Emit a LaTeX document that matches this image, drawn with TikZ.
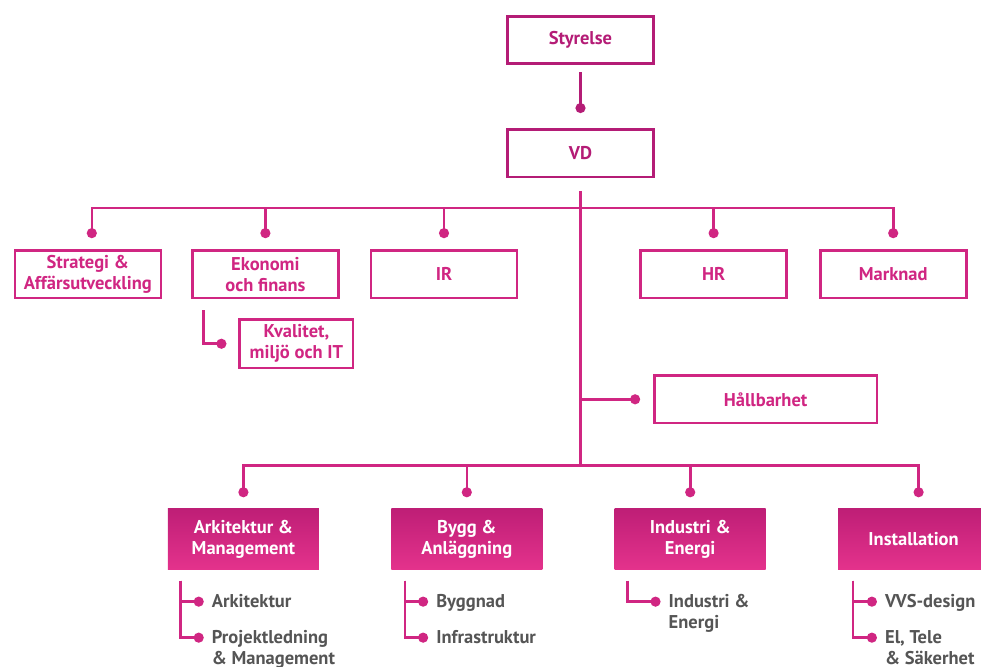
\documentclass[tikz,border=0pt]{standalone}
\usepackage{fontspec}
\setmainfont{PT Sans}
\usetikzlibrary{positioning, calc, arrows.meta}
\definecolor{Plum}{RGB}{180,28,118}
\definecolor{Rose}{RGB}{208,38,130}
\definecolor{UnitTop}{RGB}{190,30,118}
\definecolor{UnitBot}{RGB}{228,50,140}
\definecolor{Slate}{RGB}{85,85,85}
\tikzstyle{Box} = [draw=Rose, line width=2.6pt, text=Rose, align=center,
    font=\bfseries\fontsize{18.5}{21}\selectfont, inner sep=0pt,
    minimum width=146pt, minimum height=47.5pt]
\tikzstyle{Unit} = [top color=UnitTop, bottom color=UnitBot, text=white,
    align=center, font=\bfseries\fontsize{18.5}{21}\selectfont, inner sep=0pt,
    minimum width=151pt, minimum height=61pt]
\tikzstyle{Item} = [anchor=base west, text=Slate, align=left, inner sep=0pt,
    font=\bfseries\fontsize{18.5}{21}\selectfont]
\tikzstyle{Wire} = [draw=Rose, line width=2.6pt]
\tikzstyle{Dot} = [Wire, -{Circle[length=10pt, width=10pt]}]

\begin{document}
\begin{tikzpicture}[x=1pt, y=1pt]
    \useasboundingbox (0,0) rectangle (981,-666);
    \node [Box, draw=Plum, text=Plum] (styrelse) at (580.5,-40) {Styrelse};
    \node [Box, draw=Plum, text=Plum, below=63pt of styrelse] (vd) {VD};
    \node [Box, below=71pt of vd, xshift=-136.5pt] (ir) {IR};
    \node [Box, left=30pt of ir] (ekonomi) {Ekonomi\\och finans};
    \node [Box, left=29pt of ekonomi] (strategi) {Strategi \&\\Affärsutveckling};
    \node [Box, right=121pt of ir] (hr) {HR};
    \node [Box, right=31pt of hr] (marknad) {Marknad};
    \node [Box, minimum width=113.4pt, minimum height=48.4pt,
        below=19pt of ekonomi, xshift=31pt] (kvalitet) {Kvalitet,\\miljö och IT};
    \node [Box, minimum width=222.4pt, below=75pt of hr, xshift=52pt] (hallbarhet) {Hållbarhet};
    \node [Unit, below=139pt of kvalitet, xshift=-53pt] (arkitektur) {Arkitektur \&\\Management};
    \node [Unit, right=72pt of arkitektur] (bygg) {Bygg \&\\Anläggning};
    \node [Unit, right=72pt of bygg] (industri) {Industri \&\\Energi};
    \node [Unit, right=72pt of industri] (installation) {Installation};
    % sub units (base = last line)
    \node [Item] (ark1) at ($(arkitektur.south west)+(44,-38)$) {Arkitektur};
    \node [Item] (ark2) at ($(arkitektur.south west)+(44,-95)$) {Projektledning\\\& Management};
    \node [Item] (byg1) at ($(bygg.south west)+(45,-38)$) {Byggnad};
    \node [Item] (byg2) at ($(bygg.south west)+(45,-74)$) {Infrastruktur};
    \node [Item] (ind1) at ($(industri.south west)+(54,-59)$) {Industri \&\\Energi};
    \node [Item] (ins1) at ($(installation.south west)+(47,-38)$) {VVS-design};
    \node [Item] (ins2) at ($(installation.south west)+(47,-95)$) {El, Tele\\\& Säkerhet};

    \draw[Dot, Plum] ($(styrelse.south)+(0,-7)$) -- ($(vd.north)+(0,15)$);
    \draw[Wire] ($(vd.south)+(0,-13)$) -- ($(vd.south |- bygg.north)+(0,43)$);
    \draw[Dot] ($(vd.south)+(0,-30)$) -| ($(strategi.north)+(4,11)$);
    \draw[Dot] ($(vd.south)+(0,-30)$) -| ($(marknad.north)+(0,11)$);
    \draw[Dot] ($(ekonomi.north)+(0,41)$) -- ($(ekonomi.north)+(0,11)$);
    \draw[Dot] ($(ir.north)+(0,41)$) -- ($(ir.north)+(0,11)$);
    \draw[Dot] ($(hr.north)+(0,41)$) -- ($(hr.north)+(0,11)$);
    \draw[Dot] ($(ekonomi.south)+(-62,-11)$) |- ($(kvalitet.west)+(-12,0)$);
    \draw[Dot] (vd.south |- hallbarhet.west) -- ($(hallbarhet.west)+(-13,0)$);
    \draw[Dot] ($(vd.south |- bygg.north)+(0,43)$) -| ($(arkitektur.north)+(0,11)$);
    \draw[Dot] ($(vd.south |- bygg.north)+(0,43)$) -| ($(installation.north)+(5,11)$);
    \draw[Dot] ($(bygg.north)+(0,43)$) -- ($(bygg.north)+(0,11)$);
    \draw[Dot] ($(industri.north)+(0,43)$) -- ($(industri.north)+(0,11)$);
    \draw[Dot] ($(arkitektur.south west)+(13,-11)$) |- ($(ark1.base west)+(-8,6)$);
    \draw[Dot] ($(arkitektur.south west)+(13,-11)$) |- ($(ark2.base west)+(-8,27)$);
    \draw[Dot] ($(bygg.south west)+(14,-11)$) |- ($(byg1.base west)+(-8,6)$);
    \draw[Dot] ($(bygg.south west)+(14,-11)$) |- ($(byg2.base west)+(-8,6)$);
    \draw[Dot] ($(industri.south west)+(13,-11)$) |- ($(ind1.base west)+(-8,27)$);
    \draw[Dot] ($(installation.south west)+(15,-11)$) |- ($(ins1.base west)+(-8,6)$);
    \draw[Dot] ($(installation.south west)+(15,-11)$) |- ($(ins2.base west)+(-8,27)$);
\end{tikzpicture}
\end{document}
